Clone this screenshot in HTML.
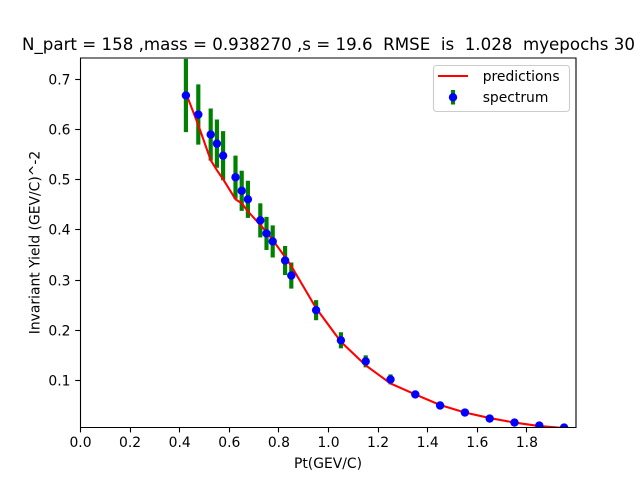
<!DOCTYPE html>
<html>
<head>
<meta charset="utf-8">
<title>Invariant Yield chart</title>
<style>
html,body{margin:0;padding:0;background:#fff;}
svg{display:block;}
text{font-family:"DejaVu Sans",sans-serif;fill:#000;white-space:pre;}
</style>
</head>
<body>
<svg id="chart" xmlns="http://www.w3.org/2000/svg" width="640" height="480" viewBox="0 0 640 480">
  <defs>
    <clipPath id="plot-clip"><rect x="80" y="57.6" width="496" height="369.6"/></clipPath>
  </defs>
  <rect x="0" y="0" width="640" height="480" fill="#fff"/>
  <g id="error-bars" clip-path="url(#plot-clip)"></g>
  <g id="prediction-line" clip-path="url(#plot-clip)"></g>
  <g id="points" clip-path="url(#plot-clip)"></g>
  <g id="spines" stroke="#000" stroke-width="1.1" fill="none">
    <path d="M80.5 57.6V427.7"/>
    <path d="M576 57.6V427.7"/>
    <path d="M80 58H576.5"/>
    <path d="M80 427.5H576.5"/>
  </g>
  <g id="x-ticks"></g>
  <g id="y-ticks"></g>
  <text x="328.5" y="50" font-size="16.67" text-anchor="middle">N_part = 158 ,mass = 0.938270 ,s = 19.6  RMSE  is  1.028  myepochs 30</text>
  <text x="328" y="468" font-size="13.89" text-anchor="middle">Pt(GEV/C)</text>
  <text x="0" y="0" font-size="13.89" text-anchor="middle" transform="translate(39.5 242.5) rotate(-90)">Invariant Yield (GEV/C)^-2</text>
  <g>
    <rect x="433.5" y="65.5" width="136" height="46" rx="3" ry="3" fill="#fff" fill-opacity="0.8" stroke="#ccc" stroke-width="1.1"/>
    <path d="M438 76H468" stroke="#f00" stroke-width="2.08" fill="none"/>
    <path d="M453 90V104.5" stroke="#008000" stroke-width="4.17" fill="none"/>
    <circle cx="453" cy="97.3" r="4.2" fill="#00f"/>
    <text x="478.3" y="81" font-size="13.89"> predictions</text>
    <text x="478.3" y="102" font-size="13.89"> spectrum</text>
  </g>
</svg>
<script>
const ptValues = [0.425,0.475,0.525,0.55,0.575,0.625,0.65,0.675,0.725,0.75,0.775,0.825,0.85,0.95,1.05,1.15,1.25,1.35,1.45,1.55,1.65,1.75,1.85,1.95];
const spectrumValues = [0.668,0.630,0.590,0.572,0.548,0.505,0.478,0.461,0.419,0.393,0.377,0.339,0.309,0.240,0.180,0.138,0.102,0.072,0.050,0.036,0.024,0.016,0.010,0.006];
const errorValues = [0.073,0.060,0.052,0.048,0.049,0.043,0.040,0.037,0.034,0.033,0.032,0.029,0.026,0.020,0.016,0.012,0.010,0.006,0.004,0.003,0.002,0.001,0.001,0.001];
const predictionValues = [0.673,0.609,0.539,0.519,0.501,0.461,0.453,0.437,0.410,0.396,0.380,0.346,0.328,0.244,0.177,0.130,0.094,0.072,0.051,0.036,0.025,0.016,0.009,0.005];
const xTickValues = [0.0,0.2,0.4,0.6,0.8,1.0,1.2,1.4,1.6,1.8];
const yTickValues = [0.1,0.2,0.3,0.4,0.5,0.6,0.7];

const SVG_NS = 'http://www.w3.org/2000/svg';
function xScale(v){ return 80.5 + v * 248; }
function yScale(v){ return 79.4 + (0.7 - v) * 501.7; }
function make(tag, parent){
  const el = document.createElementNS(SVG_NS, tag);
  parent.appendChild(el);
  return el;
}

const barsGroup = document.getElementById('error-bars');
const pointsGroup = document.getElementById('points');
const lineGroup = document.getElementById('prediction-line');
const xTickGroup = document.getElementById('x-ticks');
const yTickGroup = document.getElementById('y-ticks');

ptValues.forEach(function(pt, i){
  const bar = make('line', barsGroup);
  
  
  bar.setAttribute('x1', xScale(pt));
  bar.setAttribute('x2', xScale(pt));
  bar.setAttribute('y1', yScale(spectrumValues[i] - errorValues[i]));
  bar.setAttribute('y2', yScale(spectrumValues[i] + errorValues[i]));
  bar.setAttribute('stroke', '#008000');
  bar.setAttribute('stroke-width', '4.17');
});

const predictionPath = make('polyline', lineGroup);


predictionPath.setAttribute('points', ptValues.map(function(pt, i){
  return xScale(pt) + ',' + yScale(predictionValues[i]);
}).join(' '));
predictionPath.setAttribute('fill', 'none');
predictionPath.setAttribute('stroke', '#f00');
predictionPath.setAttribute('stroke-width', '2.08');

ptValues.forEach(function(pt, i){
  const dot = make('circle', pointsGroup);
  
  
  dot.setAttribute('cx', xScale(pt));
  dot.setAttribute('cy', yScale(spectrumValues[i]));
  dot.setAttribute('r', '4.2');
  dot.setAttribute('fill', '#00f');
});

xTickValues.forEach(function(v){
  const px = Math.round(xScale(v) - 0.5) + 0.5;
  const mark = make('line', xTickGroup);
  
  
  mark.setAttribute('x1', px);
  mark.setAttribute('x2', px);
  mark.setAttribute('y1', '427.5');
  mark.setAttribute('y2', '432.4');
  mark.setAttribute('stroke', '#000');
  mark.setAttribute('stroke-width', '1.1');
  const label = make('text', xTickGroup);
  
  
  label.setAttribute('x', xScale(v));
  label.setAttribute('y', '447');
  label.setAttribute('font-size', '13.89');
  label.setAttribute('text-anchor', 'middle');
  label.textContent = v.toFixed(1);
});

yTickValues.forEach(function(v){
  const py = Math.floor(yScale(v)) + 0.5;
  const mark = make('line', yTickGroup);
  
  
  mark.setAttribute('x1', '75.2');
  mark.setAttribute('x2', '80');
  mark.setAttribute('y1', py);
  mark.setAttribute('y2', py);
  mark.setAttribute('stroke', '#000');
  mark.setAttribute('stroke-width', '1.1');
  const label = make('text', yTickGroup);
  
  
  label.setAttribute('x', '70.5');
  label.setAttribute('y', py + 5);
  label.setAttribute('font-size', '13.89');
  label.setAttribute('text-anchor', 'end');
  label.textContent = v.toFixed(1);
});
</script>
</body>
</html>
